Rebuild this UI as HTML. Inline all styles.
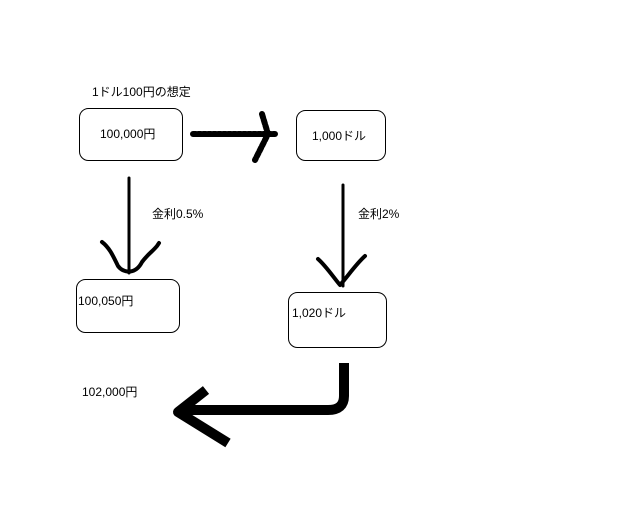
<!DOCTYPE html>
<html><head><meta charset="utf-8"><style>
body{margin:0;background:#fff;}
svg{display:block}
text{font-family:"Liberation Sans","Noto Sans CJK JP",sans-serif;font-size:12px;fill:#000}
</style></head><body>
<svg width="640" height="512" xmlns="http://www.w3.org/2000/svg">
<rect width="640" height="512" fill="#fff"/>
<g fill="none" stroke="#000" stroke-width="1">
<rect x="79.5" y="108.5" width="103" height="52" rx="9"/>
<rect x="296.5" y="110.5" width="89" height="50" rx="9"/>
<rect x="76.5" y="279.5" width="103" height="53" rx="9"/>
<rect x="288.5" y="292.5" width="98" height="55" rx="9"/>
</g>
<text x="92" y="96">1ドル100円の想定</text>
<text x="100" y="138">100,000円</text>
<text x="312" y="140">1,000ドル</text>
<text x="78" y="305">100,050円</text>
<text x="292" y="317">1,020ドル</text>
<text x="82" y="396">102,000円</text>
<text x="152" y="218">金利0.5%</text>
<text x="358" y="218">金利2%</text>
<g fill="none" stroke="#000" stroke-linecap="round" stroke-linejoin="round">
<path d="M129 178V273" stroke-width="3"/>
<path d="M102 242C110 248 114 258 118 266C124 274 136 274 142 262C148 254 152 252 157 246L159 243" stroke-width="4"/>
<path d="M343 185V286" stroke-width="3"/>
<path d="M318 259C326 266 334 278 340 285C348 276 356 264 365 256" stroke-width="4"/>
<path d="M193 134H275" stroke-width="6" stroke-dasharray="3 2"/>
<path d="M262 114L268 134L255 160" stroke-width="6" stroke-dasharray="4 2"/>
<path d="M344 363V396Q344 410 328 410H180" stroke-width="10" stroke-linecap="butt"/>
<path d="M206 390L178 412L228 443" stroke-width="10" stroke-linecap="butt"/>
</g>
</svg>
</body></html>
